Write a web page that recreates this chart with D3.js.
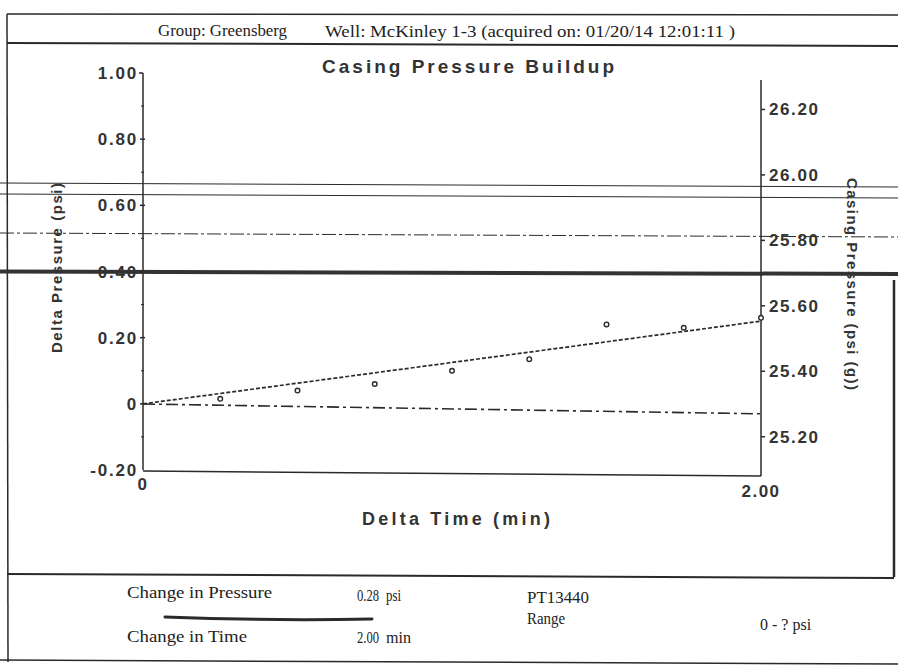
<!DOCTYPE html>
<html>
<head>
<meta charset="utf-8">
<script src="https://cdn.jsdelivr.net/npm/d3@7"></script>
<style>
  body { margin: 0; background: #fff; }
  svg { display: block; }
  .tk { font-family: "Liberation Sans", Arial, sans-serif; font-weight: bold; fill: #333; }
  .doc { font-family: "Liberation Serif", "Times New Roman", serif; fill: #222; }
</style>
</head>
<body>
<div id="chart"></div>
<script>
// data
const times = [0.25, 0.5, 0.75, 1.0, 1.25, 1.5, 1.75, 2.0];
const deltaPressure = [0.015, 0.04, 0.06, 0.10, 0.135, 0.24, 0.23, 0.26];
const trendTimes = [0, 2.0];
const trendValues = [0, 0.25];
const casingTimes = [0, 2.0];
const casingValues = [25.30, 25.27];
const leftTicks = [1.0, 0.8, 0.6, 0.4, 0.2, 0, -0.2];
const leftTickLabels = ["1.00", "0.80", "0.60", "0.40", "0.20", "0", "-0.20"];
const leftMinorTicks = [0.9, 0.7, 0.5, 0.3, 0.1, -0.1];
const rightTicks = [26.2, 26.0, 25.8, 25.6, 25.4, 25.2];
const rightTickLabels = ["26.20", "26.00", "25.80", "25.60", "25.40", "25.20"];
const xTicks = [0, 2.0];
const xTickLabels = ["0", "2.00"];

const width = 898, height = 670;

const svg = d3.select("#chart").append("svg")
  .attr("width", width)
  .attr("height", height);

// scales
const x = d3.scaleLinear().domain([0, 2]).range([143, 761]);
const yL = d3.scaleLinear().domain([-0.2, 1.0]).range([470, 73]);
const yR = d3.scaleLinear().domain([25.08, 26.29]).range([476, 80]);

const ink = "#2a2a2a";

// page frame
svg.append("line").attr("x1", 7).attr("y1", 14).attr("x2", 898).attr("y2", 15)
  .attr("stroke", ink).attr("stroke-width", 1.5);
svg.append("line").attr("x1", 7).attr("y1", 43).attr("x2", 898).attr("y2", 46)
  .attr("stroke", ink).attr("stroke-width", 2);
svg.append("line").attr("x1", 7).attr("y1", 14).attr("x2", 8).attr("y2", 662)
  .attr("stroke", ink).attr("stroke-width", 1.5);
svg.append("line").attr("x1", 894).attr("y1", 280).attr("x2", 894).attr("y2", 577)
  .attr("stroke", ink).attr("stroke-width", 2.5);
svg.append("line").attr("x1", 7).attr("y1", 574).attr("x2", 894).attr("y2", 578)
  .attr("stroke", ink).attr("stroke-width", 2);
svg.append("line").attr("x1", 0).attr("y1", 660).attr("x2", 898).attr("y2", 664)
  .attr("stroke", ink).attr("stroke-width", 1.5);

// scanner streaks across the page
svg.append("line").attr("x1", 0).attr("y1", 183).attr("x2", 898).attr("y2", 187)
  .attr("stroke", ink).attr("stroke-width", 1);
svg.append("line").attr("x1", 0).attr("y1", 194).attr("x2", 898).attr("y2", 198)
  .attr("stroke", ink).attr("stroke-width", 1);
svg.append("line").attr("x1", 0).attr("y1", 233).attr("x2", 898).attr("y2", 237)
  .attr("stroke", ink).attr("stroke-width", 1).attr("stroke-dasharray", "14,3,3,3");
svg.append("line").attr("x1", 0).attr("y1", 271.5).attr("x2", 898).attr("y2", 274)
  .attr("stroke", "#333").attr("stroke-width", 4);

// header
svg.append("text").attr("class", "doc").attr("x", 158).attr("y", 36)
  .attr("font-size", 16).attr("textLength", 129).attr("lengthAdjust", "spacingAndGlyphs")
  .text("Group: Greensberg");
svg.append("text").attr("class", "doc").attr("x", 325).attr("y", 37)
  .attr("font-size", 16).attr("textLength", 410).attr("lengthAdjust", "spacingAndGlyphs")
  .text("Well: McKinley 1-3 (acquired on: 01/20/14 12:01:11 )");

// title
svg.append("text").attr("class", "tk").attr("x", 322).attr("y", 73)
  .attr("font-size", 19).attr("textLength", 292).attr("lengthAdjust", "spacing")
  .text("Casing Pressure Buildup");

// left axis
const gL = svg.append("g");
gL.append("line").attr("x1", x(0)).attr("x2", x(0))
  .attr("y1", yL(1.0)).attr("y2", yL(-0.2)).attr("stroke", ink).attr("stroke-width", 1.5);
gL.append("line").attr("x1", x(0) - 4).attr("x2", x(0))
  .attr("y1", yL(1.0)).attr("y2", yL(1.0)).attr("stroke", ink).attr("stroke-width", 1.5);
gL.selectAll(".maj").data(leftTicks.slice(1, 6)).enter().append("line")
  .attr("x1", x(0) - 3).attr("x2", x(0) + 2)
  .attr("y1", d => yL(d)).attr("y2", d => yL(d))
  .attr("stroke", ink).attr("stroke-width", 1.5);
gL.selectAll(".min").data(leftMinorTicks).enter().append("line")
  .attr("x1", x(0) - 2).attr("x2", x(0) + 1)
  .attr("y1", d => yL(d)).attr("y2", d => yL(d))
  .attr("stroke", ink).attr("stroke-width", 1);
gL.selectAll("text").data(leftTicks).enter().append("text")
  .attr("class", "tk")
  .attr("x", x(0) - 5)
  .attr("y", d => yL(d) + 6)
  .attr("text-anchor", "end")
  .attr("font-size", 17)
  .attr("letter-spacing", 1.8)
  .text((d, i) => leftTickLabels[i]);

// right axis
const gR = svg.append("g");
gR.append("line").attr("x1", x(2)).attr("x2", x(2))
  .attr("y1", yR.range()[1]).attr("y2", yR.range()[0]).attr("stroke", ink).attr("stroke-width", 1.5);
gR.selectAll("line.t").data(rightTicks).enter().append("line")
  .attr("x1", x(2)).attr("x2", x(2) + 4)
  .attr("y1", d => yR(d)).attr("y2", d => yR(d))
  .attr("stroke", ink).attr("stroke-width", 1.5);
gR.selectAll("text").data(rightTicks).enter().append("text")
  .attr("class", "tk")
  .attr("x", x(2) + 8)
  .attr("y", d => yR(d) + 6)
  .attr("font-size", 17)
  .attr("letter-spacing", 1.6)
  .text((d, i) => rightTickLabels[i]);

// x axis
svg.append("line").attr("x1", x(0)).attr("x2", x(2))
  .attr("y1", yL(-0.2) + 1).attr("y2", yR.range()[0])
  .attr("stroke", ink).attr("stroke-width", 1.5);
svg.selectAll(".xt").data(xTicks).enter().append("text")
  .attr("class", "tk")
  .attr("x", d => x(d))
  .attr("y", (d, i) => i === 0 ? 490 : 497)
  .attr("text-anchor", "middle")
  .attr("font-size", 17)
  .attr("letter-spacing", 1.5)
  .text((d, i) => xTickLabels[i]);

// axis titles
svg.append("text").attr("class", "tk").attr("x", 362).attr("y", 525)
  .attr("font-size", 18).attr("textLength", 188).attr("lengthAdjust", "spacing")
  .text("Delta Time (min)");
svg.append("text").attr("class", "tk")
  .attr("transform", "translate(62,353) rotate(-90)")
  .attr("font-size", 15).attr("textLength", 170).attr("lengthAdjust", "spacing")
  .text("Delta Pressure (psi)");
svg.append("text").attr("class", "tk")
  .attr("transform", "translate(847,178) rotate(90)")
  .attr("font-size", 15).attr("textLength", 212).attr("lengthAdjust", "spacing")
  .text("Casing Pressure (psi (g))");

// casing pressure (right axis), dash-dot
const casingLine = d3.line()
  .x((d, i) => x(casingTimes[i]))
  .y(d => yR(d));
svg.append("path")
  .attr("d", casingLine(casingValues))
  .attr("fill", "none").attr("stroke", ink).attr("stroke-width", 1.6)
  .attr("stroke-dasharray", "12,4,3,4");

// trend of delta pressure, dotted
const trendLine = d3.line()
  .x((d, i) => x(trendTimes[i]))
  .y(d => yL(d));
svg.append("path")
  .attr("d", trendLine(trendValues))
  .attr("fill", "none").attr("stroke", ink).attr("stroke-width", 1.7)
  .attr("stroke-dasharray", "4,2");

// measured delta pressure points
svg.selectAll(".pt").data(deltaPressure).enter().append("circle")
  .attr("cx", (d, i) => x(times[i]))
  .attr("cy", d => yL(d))
  .attr("r", 2.3)
  .attr("fill", "#fff").attr("stroke", ink).attr("stroke-width", 1.4);

// footer summary
const foot = svg.append("g").attr("class", "doc").attr("font-size", 16);
function footText(tx, ty, len, s) {
  let t = foot.append("text").attr("x", tx).attr("y", ty).text(s);
  if (len) t.attr("textLength", len).attr("lengthAdjust", "spacingAndGlyphs");
}
footText(127, 598, 145, "Change in Pressure");
footText(357, 601, 22, "0.28");
footText(386, 601, 15, "psi");
footText(527, 603, 62, "PT13440");
footText(527, 624, 38, "Range");
footText(760, 630, 0, "0 - ?  psi");
footText(127, 642, 120, "Change in Time");
footText(357, 643, 22, "2.00");
footText(386, 643, 25, "min");
svg.append("path").attr("d", "M165,617 Q270,621 372,619")
  .attr("fill", "none").attr("stroke", ink).attr("stroke-width", 3).attr("stroke-linecap", "round");
</script>
</body>
</html>
